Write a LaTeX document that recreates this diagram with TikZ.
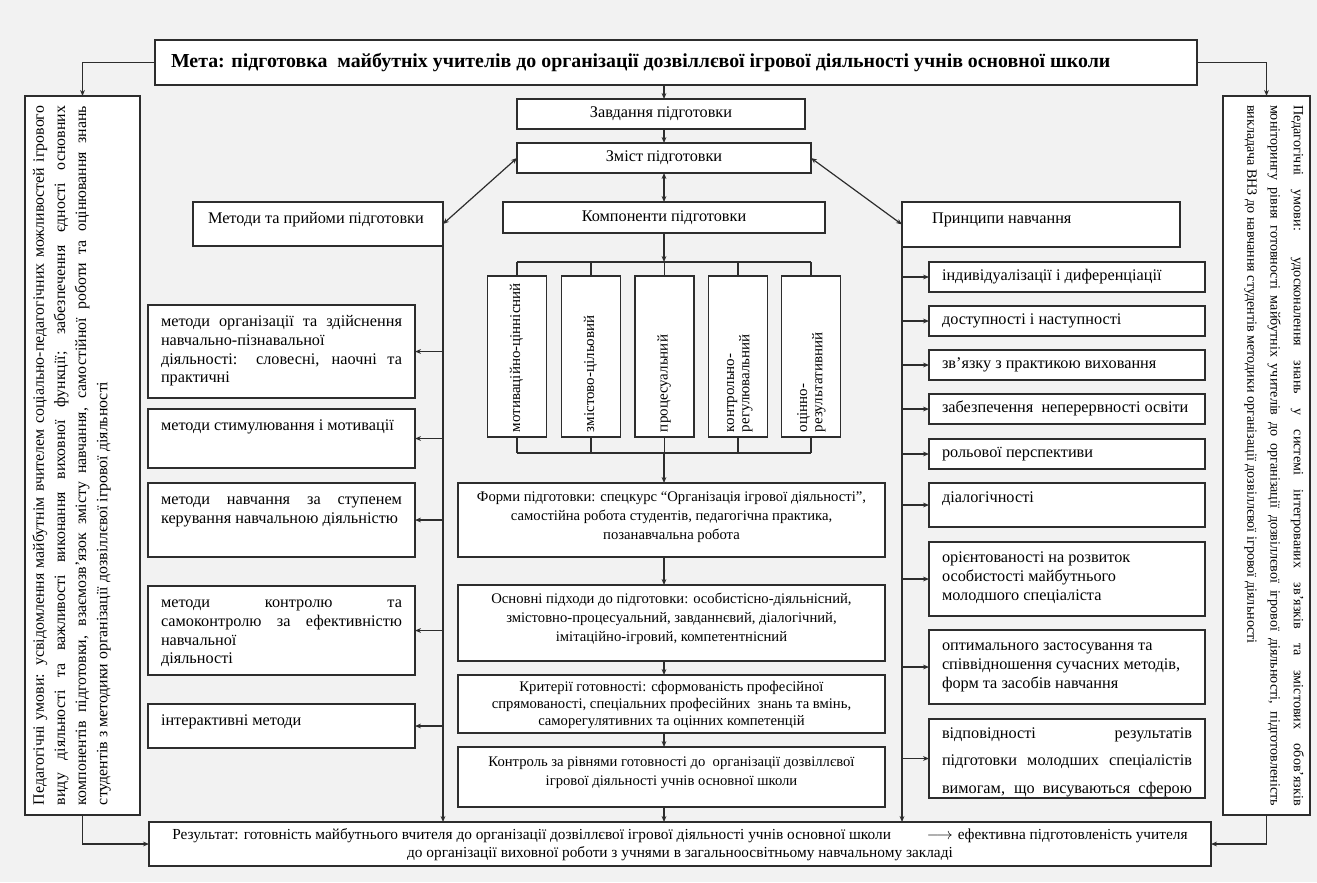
\documentclass[tikz,border=0pt]{standalone}
\usepackage{fontspec}
\usepackage{graphicx}
\setmainfont{Liberation Serif}
\usetikzlibrary{arrows.meta}
\newdimen\px \px=0.75pt
\definecolor{bgc}{RGB}{242,242,242}
\definecolor{lnc}{RGB}{45,45,45}
% \bxt{W}{H}{valign}{toppad}{hpad}{font/align}{content}
\newcommand\bxt[7]{\parbox[c][#2\px][#3]{#1\px}{\vspace*{#4\px}\hspace*{#5\px}\parbox[t]{\dimexpr#1\px-#5\px*2\relax}{#6\strut#7}}}
\newcommand\jl[1]{\makebox[\linewidth][s]{#1}}
\newcommand\fside{\fontsize{12.2pt}{13.9pt}\selectfont}
\newcommand\fsidewide{\fontsize{12.2pt}{20.6pt}\selectfont}
\newcommand\fcen{\fontsize{11pt}{14.25pt}\selectfont}
\newcommand\fcenb{\fontsize{11pt}{12.75pt}\selectfont}
\newcommand\ftitle{\fontsize{14.9pt}{16.5pt}\selectfont\bfseries}
\newcommand\fleft{\fontsize{11.9pt}{15.9pt}\selectfont}
\newcommand\frgt{\fontsize{10.6pt}{17.4pt}\selectfont}
\newcommand\fcomp{\fontsize{11.25pt}{11.5pt}\selectfont}
\newcommand\fres{\fontsize{11.5pt}{13.5pt}\selectfont}
\begin{document}
\begin{tikzpicture}[x=0.75pt,y=-0.75pt,
  box/.style={draw=lnc, fill=white, line width=0.9pt, inner sep=0pt, outer sep=0pt, anchor=north west},
  ln/.style={draw=lnc, line width=0.9pt},
  arr/.style={ln, -{Stealth[length=4.5pt,width=3.6pt]}},
  darr/.style={ln, {Stealth[length=4.5pt,width=3.6pt]}-{Stealth[length=4.5pt,width=3.6pt]}}]
\useasboundingbox (0,0) rectangle (1317,882);
\fill[bgc] (0,0) rectangle (1317,882);
\coordinate (sp) at (664,0);
\coordinate (bus1) at (664,262);
\coordinate (bus2) at (664,453);

% title
\node[box] (title) at (155,40) {\bxt{1042}{45}{t}{12}{16}{\ftitle}{Мета: підготовка\ \ майбутніх учителів до організації дозвіллєвої ігрової діяльності учнів основної школи}};

% side boxes
\node[box] (lb) at (25,96) {\rotatebox{90}{\bxt{719}{115}{t}{4}{10}{\fleft}{\jl{Педагогічні умови: усвідомлення майбутнім вчителем соціально-педагогічних можливостей ігрового}\\ \jl{виду діяльності та важливості виконання виховної функції; забезпечення єдності основних}\\ \jl{компонентів підготовки, взаємозв’язок змісту навчання, самостійної роботи та оцінювання знань}\\ студентів з методики організації дозвіллєвої ігрової діяльності}}};
\node[box] (rb) at (1223,96) {\rotatebox{-90}{\bxt{719}{87}{t}{0}{9}{\frgt}{\jl{Педагогічні умови: удосконалення знань у системі інтегрованих зв’язків та змістових обов’язків}\\ \jl{моніторингу рівня готовності майбутніх учителів до організації дозвіллєвої ігрової діяльності, підготовленість}\\ викладача ВНЗ до навчання студентів методики організації дозвіллєвої ігрової діяльності}}};

% centre column
\node[box] (zavd) at (517,99) {\bxt{288}{30}{c}{0}{0}{\fside\centering}{Завдання підготовки}};
\node[box] (zmist) at (517,143) {\bxt{294}{30}{c}{0}{0}{\fside\centering}{Зміст підготовки}};
\node[box] (komp) at (503,202) {\bxt{322}{31}{c}{0}{0}{\fside\centering}{Компоненти підготовки}};
\node[box] (metody) at (193,202) {\bxt{250}{44}{t}{8.5}{15}{\fside}{Методи та прийоми підготовки}};
\node[box] (pryn) at (902,202) {\bxt{278}{45}{t}{8.5}{30}{\fside}{Принципи навчання}};

% components
\node[box] (c1) at (487.5,276) {\rotatebox{90}{\bxt{161}{59}{c}{0}{5}{\fcomp}{мотиваційно-ціннісний}}};
\node[box] (c2) at (561.5,276) {\rotatebox{90}{\bxt{161}{59}{c}{0}{5}{\fcomp}{змістово-цільовий}}};
\node[box] (c3) at (635,276) {\rotatebox{90}{\bxt{161}{59}{c}{0}{5}{\fcomp}{процесуальний}}};
\node[box] (c4) at (708.5,276) {\rotatebox{90}{\bxt{161}{59}{c}{0}{5}{\fcomp}{контрольно-\\регулювальний}}};
\node[box] (c5) at (781.5,276) {\rotatebox{90}{\bxt{161}{59}{c}{0}{5}{\fcomp}{оцінно-\\результативний}}};

\node[box] (formy) at (458,483) {\bxt{427}{74}{t}{5}{4}{\fcen\centering}{Форми підготовки: спецкурс “Організація ігрової діяльності”,\\ самостійна робота студентів, педагогічна практика,\\ позанавчальна робота}};
\node[box] (pidkh) at (458,585) {\bxt{427}{76}{t}{5}{4}{\fcen\centering}{Основні підходи до підготовки: особистісно-діяльнісний,\\ змістовно-процесуальний, завданнєвий, діалогічний,\\ імітаційно-ігровий, компетентнісний}};
\node[box] (kryt) at (458,675) {\bxt{427}{58}{t}{5}{4}{\fcenb\centering}{Критерії готовності: сформованість професійної\\ спрямованості, спеціальних професійних\ \ знань та вмінь,\\ саморегулятивних та оцінних компетенцій}};
\node[box] (kontr) at (458,747) {\bxt{427}{60}{t}{6}{4}{\fcen\centering}{Контроль за рівнями готовності до\ \ організації дозвіллєвої\\ ігрової діяльності учнів основної школи}};

% methods
\node[box] (m1) at (148,305) {\bxt{267}{93}{t}{9}{13}{\fside}{\jl{методи організації та здійснення}\\ навчально-пізнавальної\\ \jl{діяльності: словесні, наочні та}\\ практичні}};
\node[box] (m2) at (148,409) {\bxt{267}{59}{t}{9}{13}{\fside}{методи стимулювання і мотивації}};
\node[box] (m3) at (148,483) {\bxt{267}{74}{t}{9}{13}{\fside}{\jl{методи навчання за ступенем}\\ керування навчальною діяльністю}};
\node[box] (m4) at (148,586) {\bxt{267}{89}{t}{9}{13}{\fside}{\jl{методи контролю та}\\ \jl{самоконтролю за ефективністю}\\ навчальної\\ діяльності}};
\node[box] (m5) at (148,704) {\bxt{267}{44}{t}{9}{13}{\fside}{інтерактивні методи}};

% principles
\node[box] (p1) at (929,262) {\bxt{276}{30}{c}{0}{13}{\fside}{індивідуалізації і диференціації}};
\node[box] (p2) at (929,306) {\bxt{276}{30}{c}{0}{13}{\fside}{доступності і наступності}};
\node[box] (p3) at (929,350) {\bxt{276}{30}{c}{0}{13}{\fside}{зв’язку з практикою виховання}};
\node[box] (p4) at (929,394) {\bxt{276}{30}{c}{0}{13}{\fside}{забезпечення\ \ неперервності освіти}};
\node[box] (p5) at (929,439) {\bxt{276}{30}{c}{0}{13}{\fside}{рольової перспективи}};
\node[box] (p6) at (929,483) {\bxt{276}{44}{t}{7}{13}{\fside}{діалогічності}};
\node[box] (p7) at (929,542) {\bxt{276}{74}{t}{8}{13}{\fside}{орієнтованості на розвиток\\ особистості майбутнього\\ молодшого спеціаліста}};
\node[box] (p8) at (929,630) {\bxt{276}{74}{t}{8}{13}{\fside}{оптимального застосування та\\ співвідношення сучасних методів,\\ форм та засобів навчання}};
\node[box] (p9) at (929,719) {\bxt{276}{79}{t}{0}{13}{\fsidewide}{\jl{відповідності результатів}\\ \jl{підготовки молодших спеціалістів}\\ \jl{вимогам, що висуваються сферою}}};

% result
\node[box] (result) at (149,822) {\bxt{1062}{44}{t}{5}{10}{\fres\centering}{\makebox[\linewidth]{Результат: готовність майбутнього вчителя до організації дозвіллєвої ігрової діяльності учнів основної школи\hspace{36\px}$\longrightarrow$\hspace{5\px}ефективна підготовленість учителя}\\ до організації виховної роботи з учнями в загальноосвітньому навчальному закладі}};

% connectors
\draw[arr] (title.west) -| (lb.north);
\draw[arr] (title.east) -| (rb.north);
\draw[arr] (title.south -| sp) -- (zavd.north -| sp);
\draw[arr] (zavd.south -| sp) -- (zmist.north -| sp);
\draw[darr] (zmist.south -| sp) -- (komp.north -| sp);
\draw[darr] (zmist.west) -- (metody.east);
\draw[darr] (zmist.east) -- (pryn.west);
\draw[arr] (komp.south -| sp) -- (bus1);
\draw[ln] (c1.north |- bus1) -- (c5.north |- bus1);
\draw[ln] (c1.south |- bus2) -- (c5.south |- bus2);
\foreach \n in {c1,c2,c3,c4,c5}{
  \draw[ln] (\n.north |- bus1) -- (\n.north);
  \draw[ln] (\n.south) -- (\n.south |- bus2);
}
\draw[arr] (bus2) -- (formy.north -| sp);
\draw[arr] (formy.south -| sp) -- (pidkh.north -| sp);
\draw[arr] (pidkh.south -| sp) -- (kryt.north -| sp);
\draw[arr] (kryt.south -| sp) -- (kontr.north -| sp);
\draw[arr] (kontr.south -| sp) -- (result.north -| sp);
\draw[arr] (metody.south east) -- (metody.south east |- result.north);
\foreach \n in {m1,m2,m3,m4,m5}{
  \draw[arr] (\n.east -| metody.east) -- (\n.east);
}
\draw[arr] (pryn.south west) -- (pryn.south west |- result.north);
\foreach \n in {p1,p2,p3,p4,p5,p6,p7,p8,p9}{
  \draw[arr] (\n.west -| pryn.west) -- (\n.west);
}
\draw[arr] (lb.south) |- (result.west);
\draw[arr] (rb.south) |- (result.east);
\end{tikzpicture}
\end{document}
